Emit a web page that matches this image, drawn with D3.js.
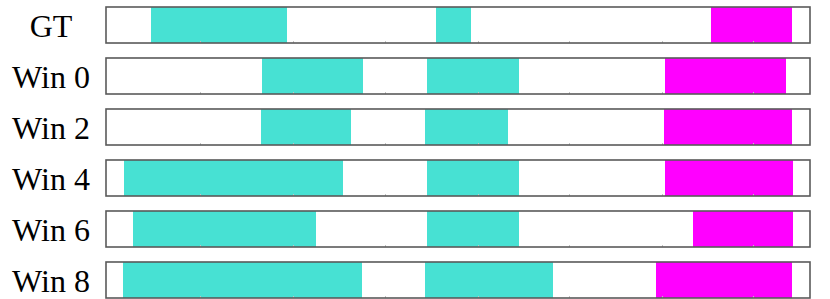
<!DOCTYPE html>
<html>
<head>
<meta charset="utf-8">
<script src="https://cdn.jsdelivr.net/npm/d3@7"></script>
<style>
  html, body { margin: 0; padding: 0; background: #fff; }
  svg { display: block; }
</style>
</head>
<body>
<svg id="chart" width="830" height="299"></svg>
<script>
// Row labels
const rows = ["GT", "Win 0", "Win 2", "Win 4", "Win 6", "Win 8"];
// Timeline extent (frames)
const timeDomain = [0, 704];
// Segments per row: [start, end] in frames
const tealA = [[45, 181], [156, 257], [155, 245], [18, 237], [27, 210], [17, 256]];
const tealB = [[330, 365], [321, 413], [319, 402], [321, 413], [321, 413], [319, 447]];
const magenta = [[605, 686], [559, 680], [558, 686], [559, 687], [587, 687], [550, 686]];
// Faint tick marks along the bottom of each track
const tickVals = [94, 187, 279, 372, 463, 556, 647];

const colors = { teal: "#47E1D3", magenta: "#FF00FF" };

const svg = d3.select("#chart");
const x = d3.scaleLinear().domain(timeDomain).range([106, 810]);
const y = d3.scaleBand().domain(rows).range([7, 298]).paddingInner(0.294).paddingOuter(0);

const segs = [];
rows.forEach((r, i) => {
  segs.push({ row: r, s: tealA[i][0], e: tealA[i][1], c: colors.teal });
  segs.push({ row: r, s: tealB[i][0], e: tealB[i][1], c: colors.teal });
  segs.push({ row: r, s: magenta[i][0], e: magenta[i][1], c: colors.magenta });
});

// white track backgrounds
svg.selectAll("rect.bg").data(rows).join("rect")
  .attr("class", "bg")
  .attr("x", x(timeDomain[0])).attr("width", x(timeDomain[1]) - x(timeDomain[0]))
  .attr("y", d => y(d)).attr("height", y.bandwidth())
  .attr("fill", "#fff");

svg.selectAll("rect.seg").data(segs).join("rect")
  .attr("class", "seg")
  .attr("x", d => x(d.s)).attr("width", d => x(d.e) - x(d.s))
  .attr("y", d => y(d.row)).attr("height", y.bandwidth())
  .attr("fill", d => d.c);

// faint ticks
rows.forEach(r => {
  const g = svg.append("g").attr("transform", `translate(0,${y(r) + y.bandwidth()})`);
  g.call(d3.axisBottom(x).tickValues(tickVals).tickSize(-2).tickFormat(""));
  g.select(".domain").remove();
  g.selectAll(".tick line").attr("stroke", "#c4c4c4").attr("stroke-width", 1);
});

// borders
svg.selectAll("rect.border").data(rows).join("rect")
  .attr("class", "border")
  .attr("x", x(timeDomain[0])).attr("width", x(timeDomain[1]) - x(timeDomain[0]))
  .attr("y", d => y(d)).attr("height", y.bandwidth())
  .attr("fill", "none")
  .attr("stroke", "#5a5a5a")
  .attr("stroke-width", 1.6);

// labels
svg.selectAll("text.lbl").data(rows).join("text")
  .attr("class", "lbl")
  .attr("x", 51)
  .attr("y", d => y(d) + y.bandwidth() / 2 + 12)
  .attr("text-anchor", "middle")
  .attr("font-family", "'Liberation Serif', 'Times New Roman', serif")
  .attr("font-size", 32)
  .attr("fill", "#000")
  .text(d => d);
</script>
</body>
</html>
